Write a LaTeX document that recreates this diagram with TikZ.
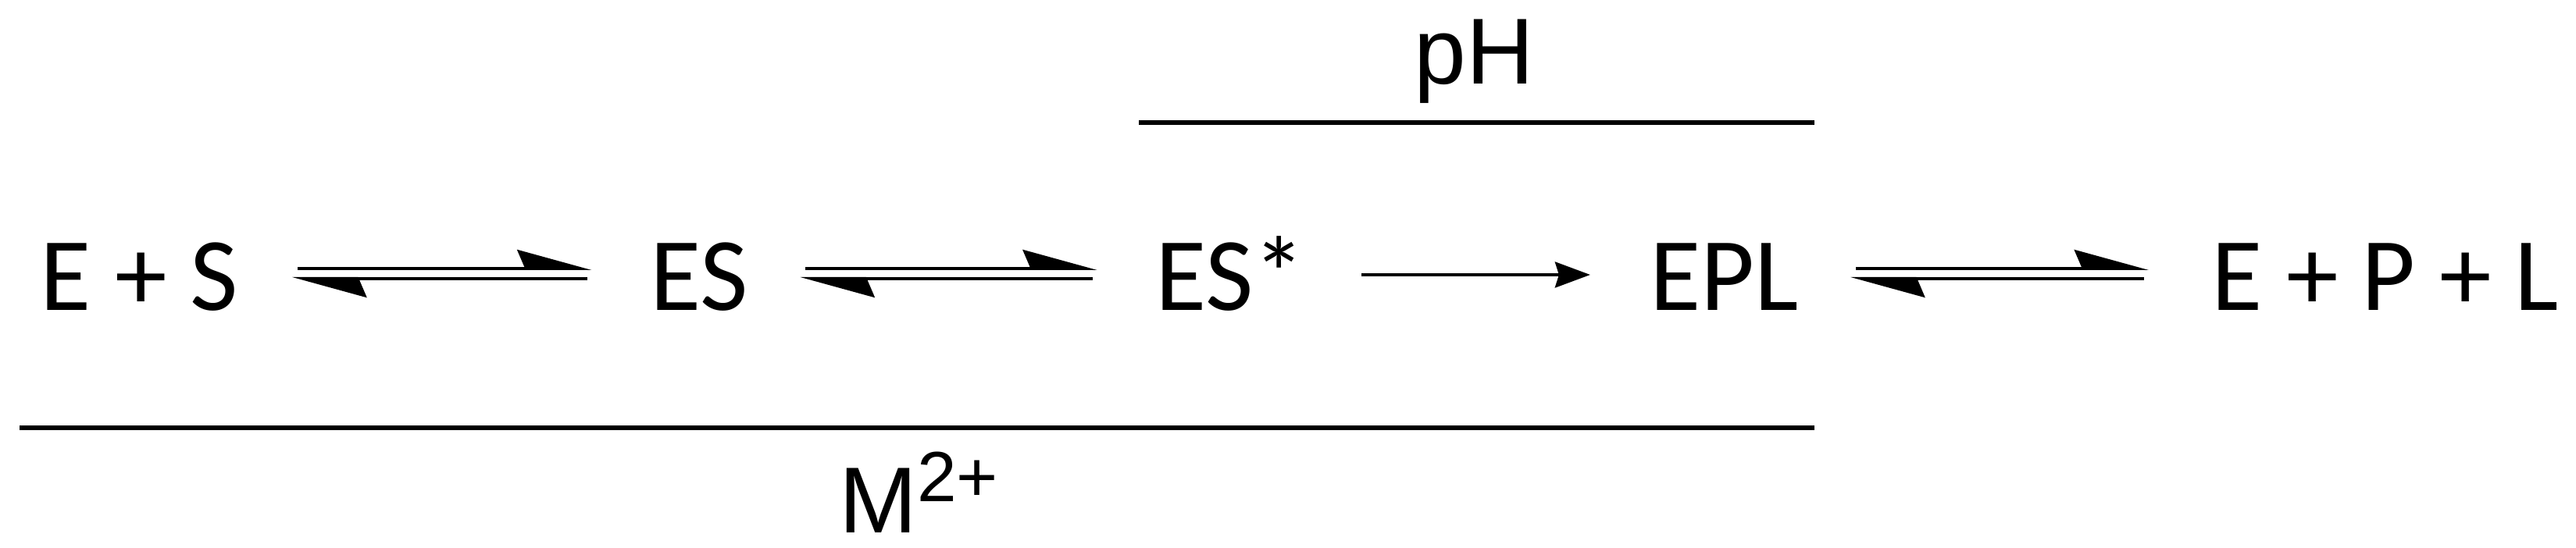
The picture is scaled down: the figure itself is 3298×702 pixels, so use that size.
\documentclass[tikz,border=0pt]{standalone}
\usepackage{fontspec}
\setmainfont{Carlito}
\newfontfamily\arialfont{Liberation Sans}
\usetikzlibrary{arrows.meta}
\begin{document}
\begin{tikzpicture}[x=0.25pt,y=-0.25pt,
  species/.style={inner sep=0pt, anchor=base, font=\fontsize{33.4pt}{40pt}\selectfont},
  cond/.style={inner sep=0pt, anchor=base, font=\arialfont\fontsize{30pt}{36pt}\selectfont},
  eqtip/.style={line width=1pt, -{Stealth[harpoon,length=22pt,width=12pt,inset=2.5pt]}},
  onetip/.style={line width=0.9pt, -{Stealth[length=11.25pt,width=8.25pt,inset=1.25pt]}},
  bar/.style={line width=1.6pt}
]
\useasboundingbox (0,0) rectangle (3298,702);

\node[species] (es0) at (178.5,398) {E + S};
\node[species] (es) at (895,398) {ES};
\node[species] (esx) at (1575.5,398) {ES*};
\node[species] (epl) at (2207.5,398) {EPL};
\node[species] (epl0) at (3054,398) {E + P + L};
\node[cond] (ph) at (1887.5,108) {pH};
\node[cond] (m) at (1176,683) {M\raisebox{10pt}{\fontsize{22.75pt}{27pt}\selectfont 2+}};

% E + S <=> ES
\draw[eqtip] ([xshift=18.75pt,yshift=13.5pt]es0.base east) -- ([xshift=-18.5pt,yshift=13.5pt]es.base west);
\draw[eqtip] ([xshift=-20pt,yshift=10.25pt]es.base west) -- ([xshift=17pt,yshift=10.25pt]es0.base east);
% ES <=> ES*
\draw[eqtip] ([xshift=18.25pt,yshift=13.5pt]es.base east) -- ([xshift=-18.5pt,yshift=13.5pt]esx.base west);
\draw[eqtip] ([xshift=-20pt,yshift=10.25pt]esx.base west) -- ([xshift=16.5pt,yshift=10.25pt]es.base east);
% ES* -> EPL
\draw[onetip] ([xshift=17.75pt,yshift=11.5pt]esx.base east) -- ([xshift=-18.9pt,yshift=11.5pt]epl.base west);
% EPL <=> E + P + L
\draw[eqtip] ([xshift=18.1pt,yshift=13.5pt]epl.base east) -- ([xshift=-20pt,yshift=13.5pt]epl0.base west);
\draw[eqtip] ([xshift=-21.5pt,yshift=10.25pt]epl0.base west) -- ([xshift=16.4pt,yshift=10.25pt]epl.base east);

% condition bars
\draw[bar] (1458,157) -- (2323,157);
\draw[bar] (25,548) -- (2323,548);
\end{tikzpicture}
\end{document}
